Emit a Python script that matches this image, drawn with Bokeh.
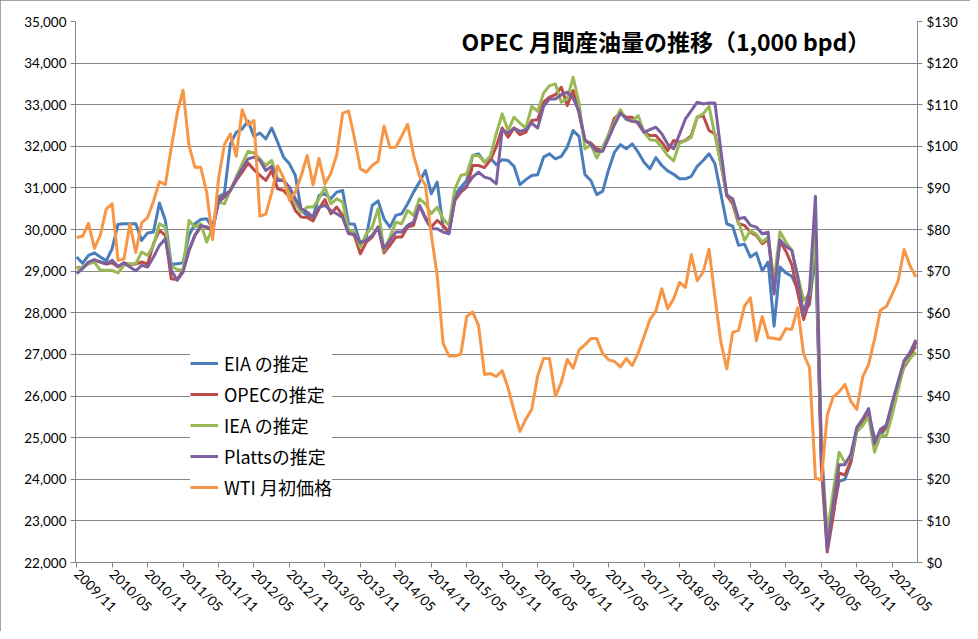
from bokeh.plotting import figure
from bokeh.models import (Range1d, LinearAxis, FixedTicker, NumeralTickFormatter,
                          Legend, LegendItem, Label)
from bokeh.embed import file_html
from bokeh.resources import INLINE

# ---------------- data ----------------
start_year, start_month, n_months = 2009, 11, 143
months = []
y, m = start_year, start_month
for _ in range(n_months):
    months.append(f"{y}/{m:02d}")
    m += 1
    if m > 12:
        m, y = 1, y + 1

tick_labels = ["2009/11", "2010/05", "2010/11", "2011/05", "2011/11", "2012/05",
               "2012/11", "2013/05", "2013/11", "2014/05", "2014/11", "2015/05",
               "2015/11", "2016/05", "2016/11", "2017/05", "2017/11", "2018/05",
               "2018/11", "2019/05", "2019/11", "2020/05", "2020/11", "2021/05"]

eia = [29340, 29190, 29380, 29440, 29340, 29250, 29540, 30130, 30140, 30140,
       30140, 29740, 29920, 29940, 30640, 30220, 29160, 29180, 29200, 29860,
       30140, 30240, 30260, 30040, 30780, 30870, 32060, 32340, 32420, 32610,
       32240, 32320, 32180, 32440, 32100, 31740, 31580, 31300, 30450, 30340,
       30300, 30820, 30860, 30740, 30900, 30940, 30140, 30130, 29660, 29820,
       30580, 30690, 30260, 30060, 30340, 30380, 30620, 30900, 31140, 31420,
       30860, 31140, 30060, 29940, 30820, 31020, 31180, 31780, 31820, 31620,
       31720, 31560, 31680, 31660, 31520, 31080, 31200, 31300, 31320, 31740,
       31820, 31700, 31760, 31980, 32380, 32240, 31320, 31180, 30840, 30920,
       31440, 31860, 32040, 31940, 32060, 31860, 31620, 31460, 31730, 31540,
       31410, 31330, 31220, 31220, 31280, 31520, 31660, 31820, 31580, 30860,
       30140, 30080, 29620, 29650, 29340, 29440, 29010, 29220, 27680, 29100,
       28960, 28880, 28560, 28000, 28200, 29500, 24500, 22500, 23200, 23950,
       24000, 24400, 25150, 25300, 25550, 25000, 25050, 25250, 25800, 26300,
       26750, 27000, 27200]

opec = [29090, 29090, 29180, 29260, 29220, 29170, 29200, 29100, 29200, 29160,
        29170, 29220, 29170, 29660, 29980, 29860, 28820, 28800, 29020, 29500,
        29860, 30060, 30060, 29960, 30700, 30820, 30940, 31180, 31380, 31600,
        31440, 31300, 31180, 31420, 30980, 30940, 30780, 30460, 30300, 30290,
        30210, 30500, 30720, 30380, 30540, 30340, 29940, 29850, 29420, 29700,
        29820, 30060, 29440, 29620, 29820, 29820, 30060, 30100, 30580, 30300,
        30060, 30220, 30100, 29940, 30700, 30900, 31020, 31540, 31540, 31490,
        31670, 31990, 32440, 32220, 32440, 32280, 32340, 32620, 32640, 33060,
        33180, 33240, 33420, 32980, 33340, 32800, 32120, 32080, 31940, 31920,
        32280, 32680, 32800, 32700, 32700, 32540, 32340, 32260, 32260, 32100,
        31900, 32140, 32100, 32140, 32260, 32700, 32740, 32380, 32300, 31580,
        30820, 30620, 30140, 30100, 29940, 29860, 29660, 29760, 28650, 29720,
        29480, 29160, 28480, 27840, 28320, 30000, 24300, 22250, 23100, 24150,
        24100, 24450, 25200, 25350, 25550, 24900, 25150, 25250, 25800, 26250,
        26700, 26900, 27300]

iea = [29060, 29100, 29180, 29220, 29020, 29020, 29020, 28960, 29140, 29180,
       29180, 29460, 29380, 29620, 30140, 30060, 29120, 29040, 29020, 30220,
       30060, 30140, 29700, 30050, 30660, 30620, 30940, 31260, 31580, 31880,
       31840, 31700, 31540, 31660, 31220, 31180, 30940, 30620, 30420, 30540,
       30540, 30740, 31020, 30620, 30740, 30660, 29980, 29940, 29580, 29900,
       30060, 30500, 29500, 29820, 30180, 30140, 30460, 30340, 30740, 30620,
       30380, 30540, 30260, 30100, 30980, 31300, 31340, 31780, 31780, 31620,
       31770, 32310, 32780, 32380, 32700, 32560, 32440, 32960, 32840, 33280,
       33460, 33500, 33060, 33140, 33660, 33040, 31940, 32040, 31720, 31980,
       32280, 32580, 32880, 32640, 32600, 32740, 32340, 32160, 32140, 31980,
       31780, 31650, 32080, 32130, 32220, 32700, 32780, 32960, 32260, 31580,
       30860, 30700, 30180, 29740, 29980, 29890, 29700, 29820, 28750, 29950,
       29700, 29500, 28900, 28300, 28450, 29900, 24800, 22700, 23700, 24650,
       24400, 24550, 25150, 25300, 25500, 24650, 25050, 25050, 25550, 26150,
       26750, 26900, 27050]

platts = [28940, 29060, 29220, 29280, 29220, 29180, 29260, 29120, 29200, 29100,
          29010, 29140, 29100, 29340, 29620, 29780, 29020, 28780, 28980, 29500,
          29860, 30100, 30060, 30020, 30660, 30780, 30940, 31220, 31460, 31700,
          31740, 31660, 31420, 31520, 31180, 31180, 31020, 30740, 30500, 30420,
          30300, 30540, 30580, 30460, 30380, 30290, 29900, 29890, 29680, 29740,
          29860, 30060, 29540, 29740, 29940, 29940, 30100, 30180, 30580, 30260,
          30020, 30020, 29940, 29900, 30740, 30940, 31060, 31260, 31380, 31260,
          31220, 31100, 32400, 32320, 32440, 32360, 32400, 32560, 32440, 32960,
          33140, 33140, 33240, 33300, 33160, 32840, 32160, 32040, 31880, 31880,
          32200, 32520, 32800, 32660, 32600, 32580, 32340, 32400, 32460, 32300,
          32050, 31940, 32290, 32660, 32860, 33060, 33020, 33040, 33040, 31900,
          30820, 30740, 30260, 30290, 30100, 30060, 29900, 29940, 28450, 29750,
          29600, 29500, 28850, 27950, 28550, 30800, 24700, 22300, 23400, 24350,
          24350, 24600, 25250, 25450, 25700, 24850, 25200, 25300, 25850, 26350,
          26850, 27050, 27350]

wti = [78.1, 78.4, 81.5, 75.5, 78.7, 84.9, 86.2, 72.6, 72.9, 81.3,
       74.5, 81.6, 82.9, 86.8, 91.5, 90.8, 99.6, 107.9, 113.5, 100.3,
       95.0, 95.0, 88.9, 77.6, 92.2, 100.4, 103.0, 97.6, 108.8, 105.2,
       106.2, 83.2, 83.7, 88.9, 95.3, 92.5, 87.0, 89.0, 93.0, 97.8,
       90.7, 97.1, 91.0, 93.5, 97.9, 107.9, 108.5, 102.0, 94.6, 93.8,
       95.4, 96.4, 104.9, 99.7, 99.8, 102.5, 105.3, 97.9, 92.9, 90.7,
       78.8, 69.0, 52.7, 49.6, 49.6, 50.1, 59.1, 60.2, 56.9, 45.2,
       45.4, 44.7, 46.1, 41.9, 36.5, 31.5, 34.4, 36.8, 44.8, 49.0,
       49.0, 40.0, 43.2, 48.8, 46.7, 51.1, 52.3, 53.8, 53.8, 50.2,
       48.7, 48.3, 47.0, 49.0, 47.3, 50.3, 54.3, 58.4, 60.4, 65.8,
       61.0, 63.3, 67.3, 66.1, 74.0, 67.7, 69.8, 75.3, 63.7, 53.0,
       46.5, 55.3, 55.8, 61.6, 63.6, 53.3, 59.1, 54.0, 53.9, 53.6,
       56.2, 56.0, 61.2, 50.1, 46.8, 20.3, 19.8, 35.4, 39.8, 41.0,
       42.8, 38.7, 36.8, 44.6, 47.6, 53.6, 60.6, 61.5, 64.5, 67.7,
       75.2, 71.3, 68.6]

series_names = ["EIA の推定", "OPECの推定", "IEA の推定", "Plattsの推定", "WTI 月初価格"]
title_text = "OPEC 月間産油量の推移（1,000 bpd）"

# ---------------- styles ----------------
GRID = "#868686"
COLORS = ["#4A7EBB", "#BE4B48", "#98B954", "#7D60A0", "#F79646"]
TICK_FONT = "Lato"
CJK_FONT = "Noto Sans CJK JP"

x = list(range(len(months)))

p = figure(width=970, height=631, output_backend="svg", toolbar_location=None,
           x_range=Range1d(-0.2, len(months) - 1 + 0.27),
           y_range=Range1d(22000, 35000),
           min_border_left=75, min_border_right=53,
           min_border_top=21, min_border_bottom=69,
           styles={"outline": "1px solid #868686", "outline-offset": "-1px"})
p.extra_y_ranges = {"wti": Range1d(0, 130)}
p.outline_line_color = None
p.background_fill_color = "white"
p.border_fill_color = "white"

# left axis
p.yaxis.ticker = FixedTicker(ticks=list(range(22000, 35001, 1000)))
p.yaxis.formatter = NumeralTickFormatter(format="0,0")

# right axis
ax_r = LinearAxis(y_range_name="wti", ticker=FixedTicker(ticks=list(range(0, 131, 10))),
                  formatter=NumeralTickFormatter(format="$0"))
p.add_layout(ax_r, "right")

# x axis
tick_pos = [months.index(t) for t in tick_labels]
p.xaxis.ticker = FixedTicker(ticks=tick_pos)
p.xaxis.major_label_overrides = {i: t for i, t in zip(tick_pos, tick_labels)}
p.xaxis.major_label_orientation = -0.785398

for ax in [p.xaxis[0], p.yaxis[0], ax_r]:
    ax.axis_line_color = GRID
    ax.major_tick_line_color = GRID
    ax.major_tick_in = 0
    ax.major_tick_out = 5
    ax.minor_tick_line_color = None
    ax.major_label_text_font = TICK_FONT
    ax.major_label_text_font_size = "13.5px"
    ax.major_label_text_color = "#000000"
    ax.major_label_standoff = 4

p.xgrid.visible = False
p.ygrid.grid_line_color = GRID
p.ygrid.grid_line_width = 1

renderers = []
for vals, col in zip([eia, opec, iea, platts], COLORS[:4]):
    r = p.line(x, vals, line_color=col, line_width=3, line_join="round")
    renderers.append(r)
r = p.line(x, wti, line_color=COLORS[4], line_width=3, line_join="round", y_range_name="wti")
renderers.append(r)

legend = Legend(items=[LegendItem(label=n, renderers=[rr]) for n, rr in zip(series_names, renderers)],
                location=(115, 62), label_text_font=CJK_FONT, label_text_font_size="18px",
                label_text_color="#000000",
                glyph_width=28, glyph_height=20, label_height=20, label_standoff=6,
                spacing=5, padding=20, margin=0,
                border_line_color=None, background_fill_color="white", background_fill_alpha=1)
p.add_layout(legend)

p.add_layout(Label(x=65.1, y=34540, text=title_text, text_font=CJK_FONT,
                   text_font_size="23px", text_font_style="bold", text_baseline="middle",
                   text_color="#000000"))

open("out.html", "w").write(file_html(p, INLINE))
